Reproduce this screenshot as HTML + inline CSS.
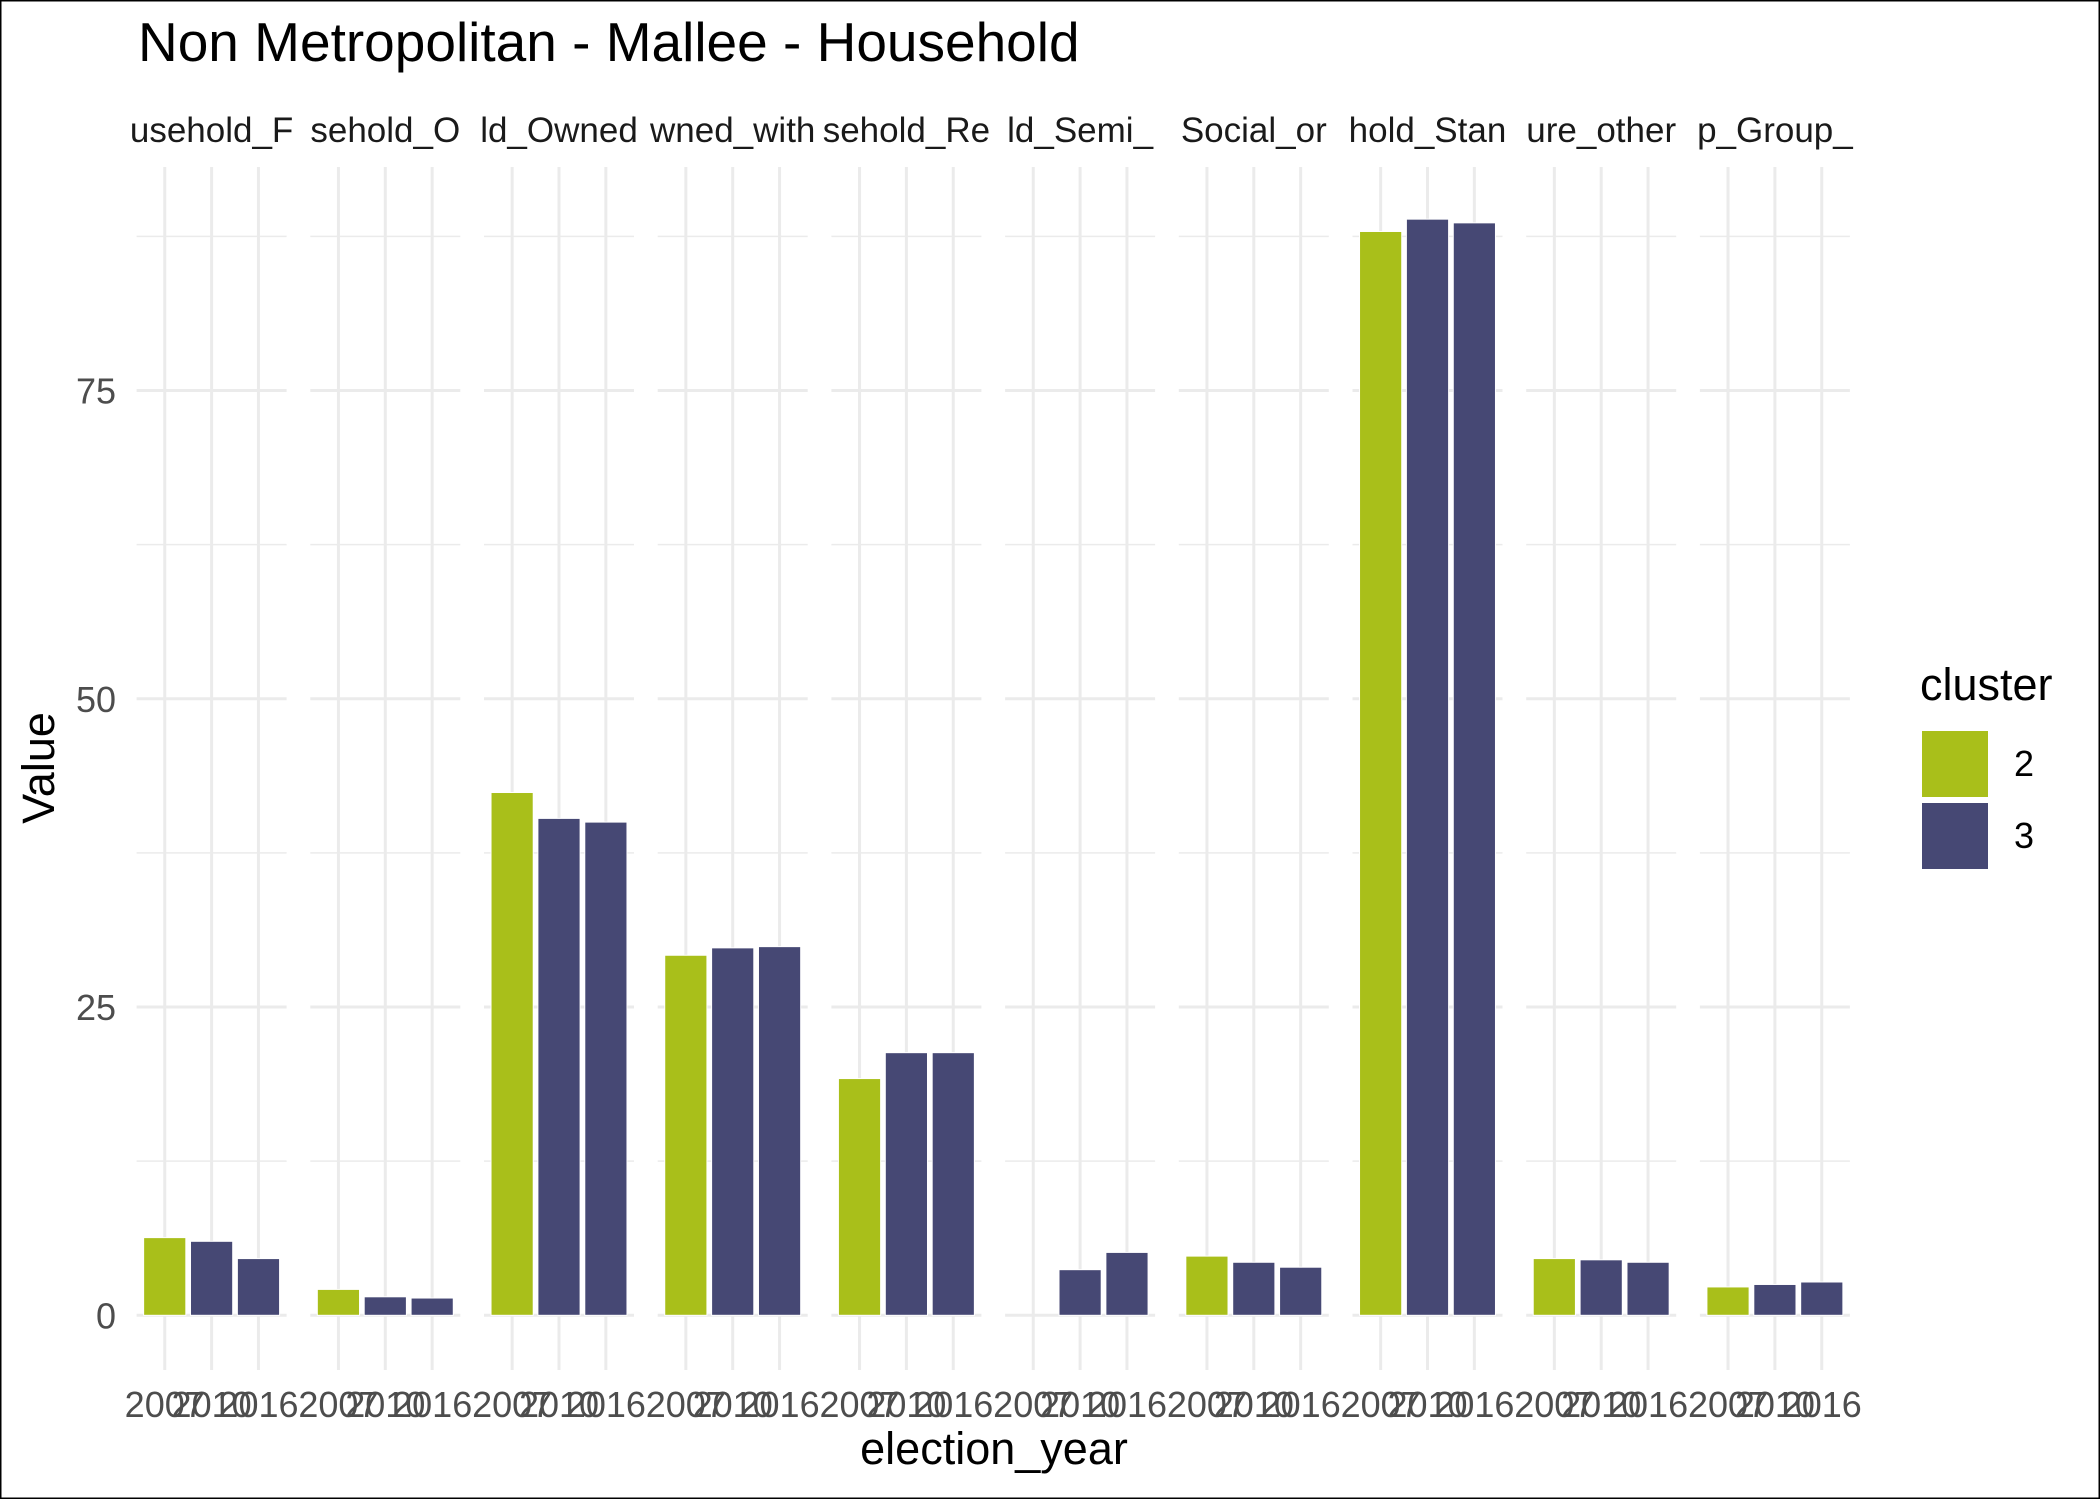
<!DOCTYPE html>
<html><head><meta charset="utf-8"><style>
html,body{margin:0;padding:0;background:#fff}
svg{display:block}
text{font-family:"Liberation Sans",Arial,sans-serif}
</style></head><body>
<svg id="chart" width="2100" height="1499" viewBox="0 0 2100 1499" xmlns="http://www.w3.org/2000/svg">
<rect x="0.5" y="0.5" width="2099" height="1498" fill="#fff" stroke="#000" stroke-width="2"/>
<text x="138" y="61" font-size="55" fill="#000">Non Metropolitan - Mallee - Household</text>
<g id="plot"></g>
<text x="994" y="1464" font-size="45" text-anchor="middle" fill="#000">election_year</text>
<text transform="translate(54,768) rotate(-90)" font-size="45" text-anchor="middle" fill="#000">Value</text>
<g>
<text x="1920" y="700" font-size="45" fill="#000">cluster</text>
<rect x="1922" y="731" width="66" height="66" fill="#a9bf1a"/>
<text x="2014" y="776" font-size="36" fill="#000">2</text>
<rect x="1922" y="803" width="66" height="66" fill="#464874"/>
<text x="2014" y="848" font-size="36" fill="#000">3</text>
</g>
</svg>
<script>
const panels = ["usehold_F","sehold_O","ld_Owned","wned_with","sehold_Re","ld_Semi_","Social_or","hold_Stan","ure_other","p_Group_"];
const years = ["2007","2010","2016"];
const yTicks = [0,25,50,75];
const yMinor = [12.5,37.5,62.5,87.5];
// values[panel][year]; null = no bar
const values = [
 [6.3,6.0,4.6],[2.1,1.5,1.4],[42.4,40.3,40.0],[29.2,29.8,29.9],[19.2,21.3,21.3],
 [null,3.7,5.1],[4.8,4.3,3.9],[87.9,88.9,88.6],[4.6,4.5,4.3],[2.3,2.5,2.7]
];
const clusters = ["2","3","3"];
const colors = {"2":"#a9bf1a","3":"#464874"};

const NS="http://www.w3.org/2000/svg";
const plotG=document.getElementById('plot');
const panelLeft=136.6, panelPitch=173.7, panelW=150, plotTop=167, plotBottom=1370;
const y0=1315.3, pxPerUnit=12.33;
const yS=v=>y0-v*pxPerUnit;
const unitW=panelW/3.2;
const xS=(p,i)=>panelLeft+p*panelPitch+(0.6+i)*unitW;
function mk(tag,attrs){const e=document.createElementNS(NS,tag);for(const k in attrs)e.setAttribute(k,attrs[k]);return e;}

yTicks.forEach(t=>{
  const tx=mk('text',{x:116,y:yS(t)+13,'font-size':36,'text-anchor':'end',fill:'#4d4d4d'});
  
  
  tx.textContent=t; plotG.appendChild(tx);
});

panels.forEach((name,p)=>{
  const px=panelLeft+p*panelPitch;
  const pg=mk('g',{});
  
  
  plotG.appendChild(pg);
  yMinor.forEach(t=>{
    const l=mk('line',{x1:px,x2:px+panelW,y1:yS(t),y2:yS(t),stroke:'#ebebeb','stroke-width':1.5});
    
    
    pg.appendChild(l);
  });
  yTicks.forEach(t=>{
    const l=mk('line',{x1:px,x2:px+panelW,y1:yS(t),y2:yS(t),stroke:'#ebebeb','stroke-width':3});
    
    
    pg.appendChild(l);
  });
  years.forEach((yr,i)=>{
    const x=xS(p,i);
    const l=mk('line',{x1:x,x2:x,y1:plotTop,y2:plotBottom,stroke:'#ebebeb','stroke-width':3});
    
    
    pg.appendChild(l);
  });
  years.forEach((yr,i)=>{
    const v=values[p][i];
    if(v===null) return;
    const bw=0.9*unitW, x=xS(p,i);
    const r=mk('rect',{x:x-bw/2,y:yS(v),width:bw,height:y0-yS(v),fill:colors[clusters[i]],stroke:'#fff','stroke-width':1});
    
    
    pg.appendChild(r);
  });
  years.forEach((yr,i)=>{
    const tx=mk('text',{x:xS(p,i),y:1417,'font-size':36,'text-anchor':'middle',fill:'#4d4d4d'});
    
    
    tx.textContent=yr; pg.appendChild(tx);
  });
  const st=mk('text',{x:px+panelW/2,y:142,'font-size':35,'text-anchor':'middle',fill:'#1a1a1a'});
  
  
  st.textContent=name; pg.appendChild(st);
});
</script>
</body></html>
